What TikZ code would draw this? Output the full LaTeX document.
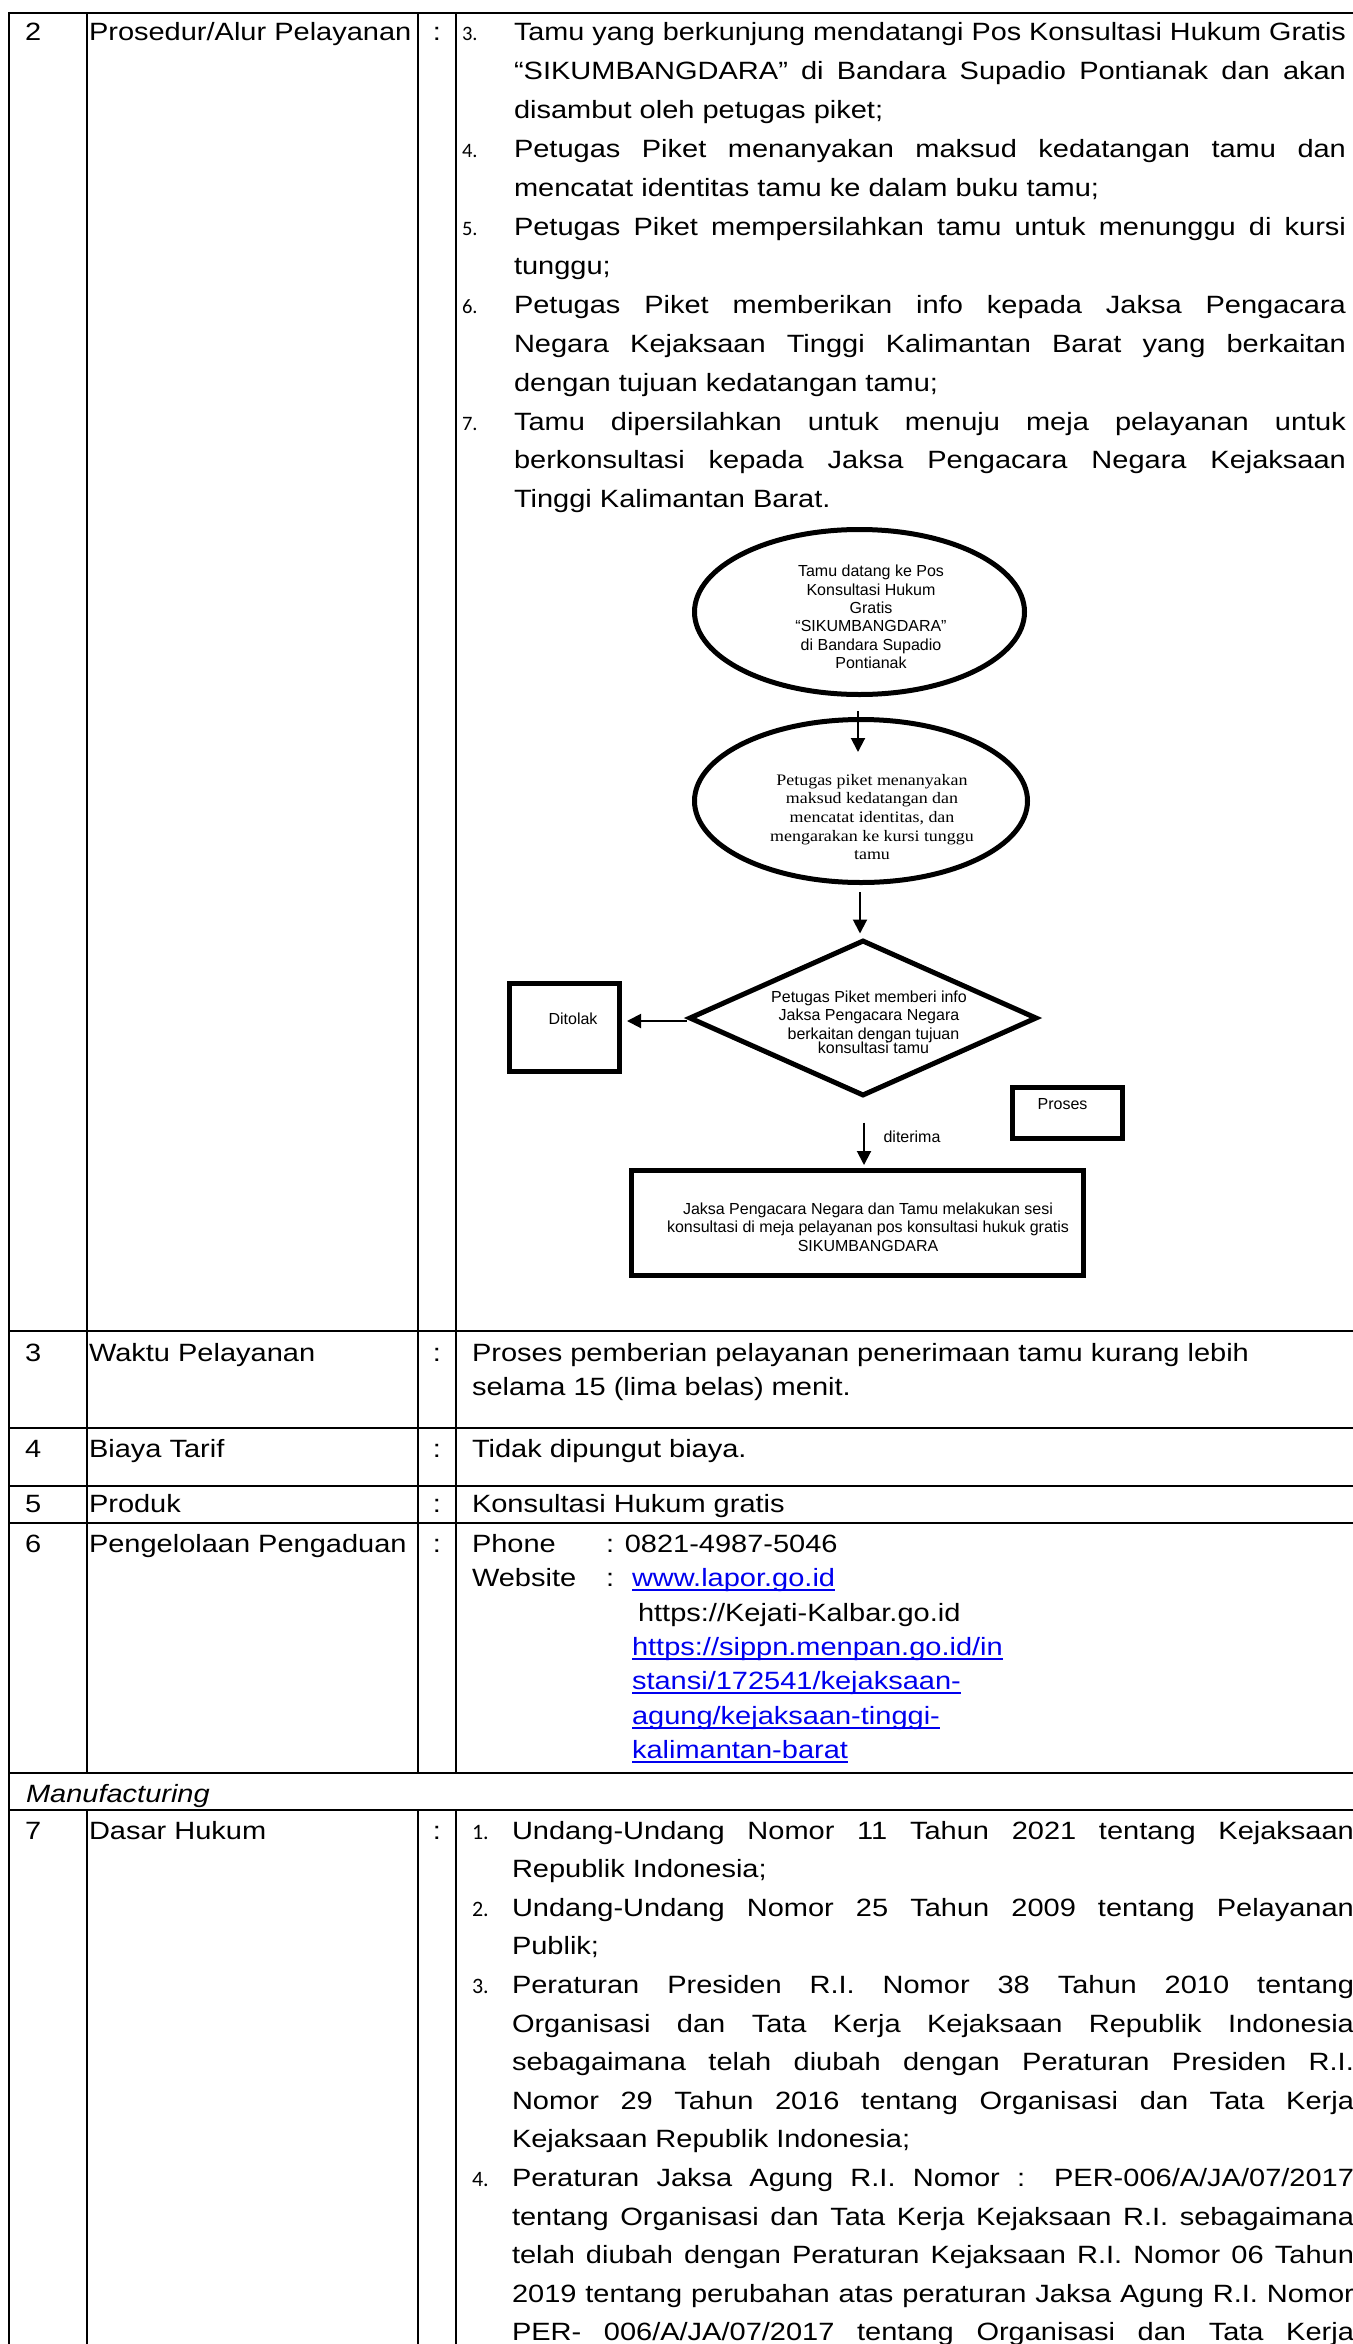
\documentclass[tikz,border=0pt]{standalone}
\usepackage{fontspec}
\usepackage{graphicx}
\usetikzlibrary{shapes.geometric,arrows.meta,calc}
\newfontfamily\tabf[FakeStretch=1.16]{Liberation Sans}
\newfontfamily\flowf{Liberation Sans}
\newfontfamily\numf{Carlito}
\newfontfamily\serf[FakeStretch=1.12]{Liberation Serif}
\definecolor{linkblue}{HTML}{0000EE}
\newlength\jwd
\newcommand\jline[2]{\settowidth\jwd{#2}\ifdim\jwd<#1\relax\makebox[#1][s]{#2}\else\resizebox{#1}{\height}{#2}\fi}
\begin{document}
\begin{tikzpicture}[x=1pt,y=-1pt,
  tab/.style={anchor=base west,inner sep=0pt,outer sep=0pt,font=\tabf\fontsize{25}{30}\selectfont},
  colon/.style={anchor=base,inner sep=0pt,outer sep=0pt,font=\tabf\fontsize{25}{30}\selectfont},
  numa/.style={anchor=base west,inner sep=0pt,outer sep=0pt,font=\numf\fontsize{20.5}{24}\selectfont},
  numb/.style={anchor=base west,inner sep=0pt,outer sep=0pt,font=\numf\fontsize{22}{26}\selectfont},
  link/.style={tab,text=linkblue},
  uline/.style={draw=linkblue,line width=1.8pt},
  hrule/.style={line width=2.8pt},
  vrule/.style={line width=2.2pt},
  shapeline/.style={draw,line width=5pt,inner sep=0pt},
  ell/.style={shapeline,ellipse},
  box/.style={shapeline,rectangle},
  dia/.style={shapeline,diamond},
  ftxt/.style={inner sep=0pt,outer sep=0pt,align=center,font=\flowf\fontsize{16}{18.4}\selectfont},
  stxt/.style={inner sep=0pt,outer sep=0pt,align=center,font=\serf\fontsize{16}{18.7}\selectfont},
  arr/.style={line width=2pt,-{Triangle[length=14pt,width=14pt]}}
]
\useasboundingbox (0,0) rectangle (1352,2344);
\fill[white] (0,0) rectangle (1352,2344);

% ---------- table rules ----------
\draw[vrule] (9,12) -- (9,2350);
\foreach \yy in {13,1331,1428,1486,1523,1773,1810}{\draw[hrule] (8,\yy) -- (1356,\yy);}
\foreach \xx in {87,418,456}{\draw[vrule] (\xx,13) -- (\xx,1773); \draw[vrule] (\xx,1810) -- (\xx,2350);}

% ---------- row 2 ----------
\node[tab] (n2) at (25,41) {2};
\node[tab] (h2) at (89,41) {Prosedur/Alur Pelayanan};
\node[colon] (c2) at (437,41) {:};
\node[numa] (i3) at (462,41) {3.};
\node[numa] (i4) at (462,157.7) {4.};
\node[numa] (i5) at (462,235.5) {5.};
\node[numa] (i6) at (462,313.3) {6.};
\node[numa] (i7) at (462,430) {7.};
\node[tab] (a0) at (514,41) {\jline{832pt}{Tamu yang berkunjung mendatangi Pos Konsultasi Hukum Gratis}};
\node[tab] (a1) at (514,79.9) {\jline{832pt}{“SIKUMBANGDARA” di Bandara Supadio Pontianak dan akan}};
\node[tab] (a2) at (514,118.8) {disambut oleh petugas piket;};
\node[tab] (a3) at (514,157.7) {\jline{832pt}{Petugas Piket menanyakan maksud kedatangan tamu dan}};
\node[tab] (a4) at (514,196.6) {mencatat identitas tamu ke dalam buku tamu;};
\node[tab] (a5) at (514,235.5) {\jline{832pt}{Petugas Piket mempersilahkan tamu untuk menunggu di kursi}};
\node[tab] (a6) at (514,274.4) {tunggu;};
\node[tab] (a7) at (514,313.3) {\jline{832pt}{Petugas Piket memberikan info kepada Jaksa Pengacara}};
\node[tab] (a8) at (514,352.2) {\jline{832pt}{Negara Kejaksaan Tinggi Kalimantan Barat yang berkaitan}};
\node[tab] (a9) at (514,391.1) {dengan tujuan kedatangan tamu;};
\node[tab] (a10) at (514,430) {\jline{832pt}{Tamu dipersilahkan untuk menuju meja pelayanan untuk}};
\node[tab] (a11) at (514,468.9) {\jline{832pt}{berkonsultasi kepada Jaksa Pengacara Negara Kejaksaan}};
\node[tab] (a12) at (514,507.8) {Tinggi Kalimantan Barat.};

% ---------- flowchart ----------
\node[ell,minimum width=330pt,minimum height=165pt] (e1) at (859.5,612) {};
\node[ftxt] (e1t) at (871,617) {Tamu datang ke Pos\\Konsultasi Hukum\\Gratis\\“SIKUMBANGDARA”\\di Bandara Supadio\\Pontianak};
\node[ell,minimum width=333pt,minimum height=163pt] (e2) at (861,801) {};
\node[stxt] (e2t) at (872,817) {Petugas piket menanyakan\\maksud kedatangan dan\\mencatat identitas, dan\\mengarakan ke kursi tunggu\\tamu};
\node[dia,minimum width=348pt,minimum height=156pt] (d1) at (863,1018) {};
\node[ftxt] (d1t) at (869,1022) {Petugas Piket memberi info\\Jaksa Pengacara Negara\\\ \ berkaitan dengan tujuan\\[-4.5pt]\ \ konsultasi tamu};
\node[box,minimum width=110pt,minimum height=88pt] (tolak) at (564.5,1027.5) {};
\node[ftxt,anchor=base] (tolakt) at (573,1024) {Ditolak};
\node[box,minimum width=110pt,minimum height=51pt] (proses) at (1067.5,1113) {};
\node[ftxt,anchor=base] (prosest) at (1062.5,1109) {Proses};
\node[box,minimum width=452pt,minimum height=105pt] (final) at (857.5,1223) {};
\node[ftxt] (finalt) at (868,1227) {Jaksa Pengacara Negara dan Tamu melakukan sesi\\konsultasi di meja pelayanan pos konsultasi hukuk gratis\\SIKUMBANGDARA};
\node[ftxt,anchor=base] (dit) at (912,1142) {diterima};

\draw[arr] ($(e1.south)+(-1.5,14)$) -- ($(e2.north)+(-3,35)$);
\draw[arr] ($(e2.south)+(-1,7)$) -- ($(d1.north)+(-3,-4)$);
\draw[arr] ($(d1.west)+(0,3)$) -- ($(tolak.east)+(5,-6.5)$);
\draw[arr] ($(d1.south)+(1,24)$) -- ($(final.north)+(6.5,-3)$);

% ---------- row 3 ----------
\node[tab] (n3) at (25,1361) {3};
\node[tab] (h3) at (89,1361) {Waktu Pelayanan};
\node[colon] (c3) at (437,1361) {:};
\node[tab] (b0) at (472,1361) {Proses pemberian pelayanan penerimaan tamu kurang lebih};
\node[tab] (b1) at (472,1395) {selama 15 (lima belas) menit.};

% ---------- row 4 ----------
\node[tab] (n4) at (25,1457) {4};
\node[tab] (h4) at (89,1457) {Biaya Tarif};
\node[colon] (c4) at (437,1457) {:};
\node[tab] (d4) at (472,1457) {Tidak dipungut biaya.};

% ---------- row 5 ----------
\node[tab] (n5) at (25,1512) {5};
\node[tab] (h5) at (89,1512) {Produk};
\node[colon] (c5) at (437,1512) {:};
\node[tab] (d5) at (472,1512) {Konsultasi Hukum gratis};

% ---------- row 6 ----------
\node[tab] (n6) at (25,1552) {6};
\node[tab] (h6) at (89,1552) {Pengelolaan Pengaduan};
\node[colon] (c6) at (437,1552) {:};
\node[tab] (ph) at (472,1552) {Phone};
\node[tab] (phn) at (606,1552) {: 0821-4987-5046};
\node[tab] (web) at (472,1586) {Website};
\node[tab] (webc) at (606,1586) {:};
\node[link] (l1) at (632,1586) {www.lapor.go.id};
\node[tab] (kj) at (638,1621) {https://Kejati-Kalbar.go.id};
\node[link] (l2) at (632,1655) {https://sippn.menpan.go.id/in};
\node[link] (l3) at (632,1689) {stansi/172541/kejaksaan-};
\node[link] (l4) at (632,1724) {agung/kejaksaan-tinggi-};
\node[link] (l5) at (632,1758) {kalimantan-barat};
\foreach \ln in {l1,l2,l3,l4,l5}{\draw[uline] ($(\ln.base west)+(0,4)$) -- ($(\ln.base east)+(0,4)$);}

% ---------- manufacturing ----------
\node[tab,font=\tabf\itshape\fontsize{25}{30}\selectfont] (man) at (26,1802) {Manufacturing};

% ---------- row 7 ----------
\node[tab] (n7) at (25,1839) {7};
\node[tab] (h7) at (89,1839) {Dasar Hukum};
\node[colon] (c7) at (437,1839) {:};
\node[numb] (j1) at (472,1839) {1.};
\node[numb] (j2) at (472,1916.2) {2.};
\node[numb] (j3) at (472,1993.4) {3.};
\node[numb] (j4) at (472,2186.4) {4.};
\node[tab] (g0) at (512,1839) {\jline{842pt}{Undang-Undang Nomor 11 Tahun 2021 tentang Kejaksaan}};
\node[tab] (g1) at (512,1877.6) {Republik Indonesia;};
\node[tab] (g2) at (512,1916.2) {\jline{842pt}{Undang-Undang Nomor 25 Tahun 2009 tentang Pelayanan}};
\node[tab] (g3) at (512,1954.8) {Publik;};
\node[tab] (g4) at (512,1993.4) {\jline{842pt}{Peraturan Presiden R.I. Nomor 38 Tahun 2010 tentang}};
\node[tab] (g5) at (512,2032) {\jline{842pt}{Organisasi dan Tata Kerja Kejaksaan Republik Indonesia}};
\node[tab] (g6) at (512,2070.6) {\jline{842pt}{sebagaimana telah diubah dengan Peraturan Presiden R.I.}};
\node[tab] (g7) at (512,2109.2) {\jline{842pt}{Nomor 29 Tahun 2016 tentang Organisasi dan Tata Kerja}};
\node[tab] (g8) at (512,2147.8) {Kejaksaan Republik Indonesia;};
\node[tab] (g9) at (512,2186.4) {\jline{842pt}{Peraturan Jaksa Agung R.I. Nomor : PER-006/A/JA/07/2017}};
\node[tab] (g10) at (512,2225) {\jline{842pt}{tentang Organisasi dan Tata Kerja Kejaksaan R.I. sebagaimana}};
\node[tab] (g11) at (512,2263.6) {\jline{842pt}{telah diubah dengan Peraturan Kejaksaan R.I. Nomor 06 Tahun}};
\node[tab] (g12) at (512,2302.2) {\jline{842pt}{2019 tentang perubahan atas peraturan Jaksa Agung R.I. Nomor}};
\node[tab] (g13) at (512,2340.8) {\jline{842pt}{PER- 006/A/JA/07/2017 tentang Organisasi dan Tata Kerja}};
\end{tikzpicture}
\end{document}
